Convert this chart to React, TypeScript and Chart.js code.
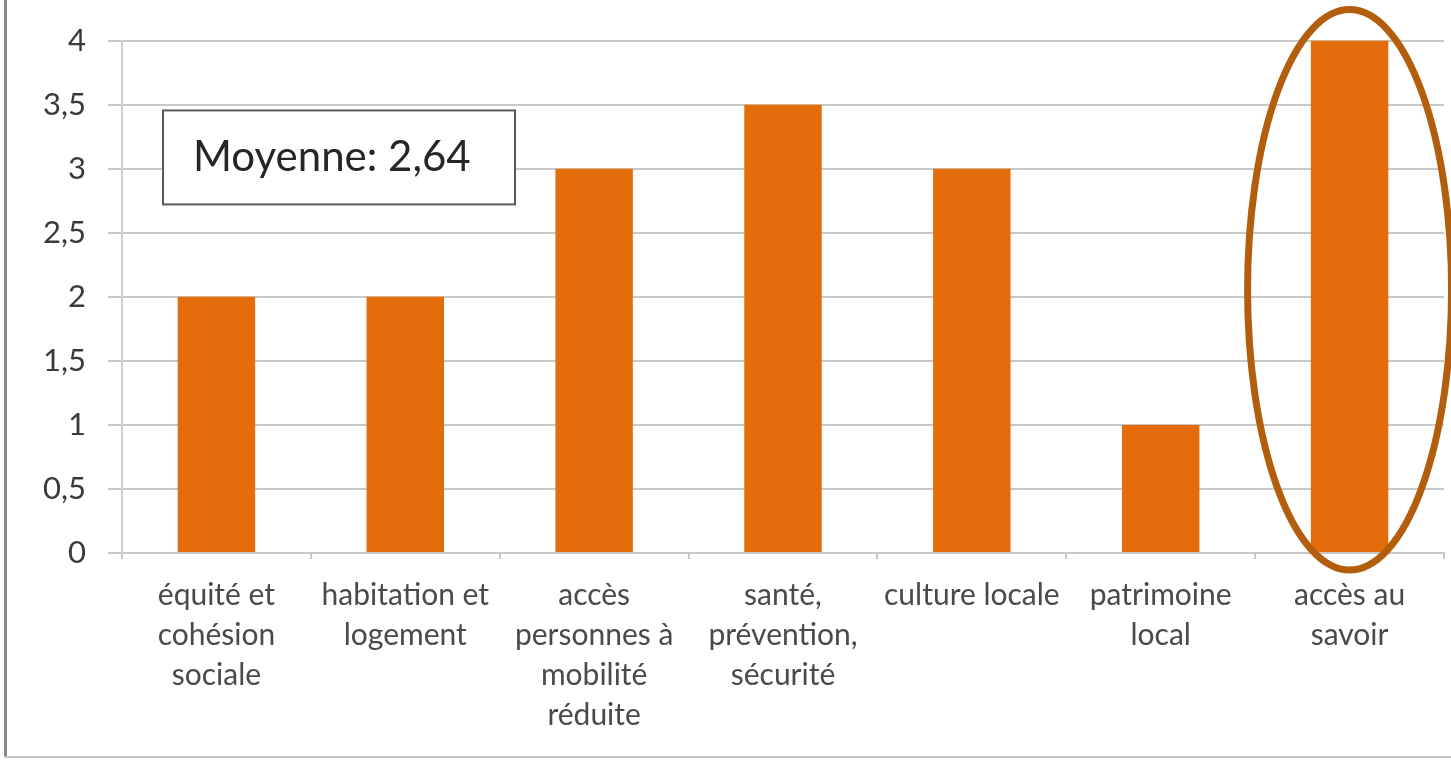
import React, { useEffect, useRef } from "react";
import { Chart, registerables } from "chart.js";

Chart.register(...registerables);

const categories: string[][] = [
  ["équité et", "cohésion", "sociale"],
  ["habitation et", "logement"],
  ["accès", "personnes à", "mobilité", "réduite"],
  ["santé,", "prévention,", "sécurité"],
  ["culture locale"],
  ["patrimoine", "local"],
  ["accès au", "savoir"],
];
const values: number[] = [2, 2, 3, 3.5, 3, 1, 4];
const annotationText = "Moyenne: 2,64";
const highlightIndex = 6;

const FONT = "Lato, 'Open Sans', sans-serif";

const overlayPlugin = {
  id: "overlay",
  afterDatasetsDraw(chart: any) {
    const ctx = chart.ctx;
    const x = chart.scales.x;
    const y = chart.scales.y;
    // annotation box
    const bx = x.left + 41;
    const by = y.getPixelForValue(3.455);
    const bw = 352;
    const bh = 94;
    ctx.save();
    ctx.fillStyle = "#ffffff";
    ctx.fillRect(bx, by, bw, bh);
    ctx.strokeStyle = "#595959";
    ctx.lineWidth = 2;
    ctx.strokeRect(bx, by, bw, bh);
    ctx.fillStyle = "#262626";
    ctx.font = `42px ${FONT}`;
    ctx.textBaseline = "middle";
    ctx.textAlign = "left";
    ctx.fillText(annotationText, bx + 30, by + bh / 2);
    // ellipse around highlighted bar
    const cx = x.getPixelForValue(highlightIndex);
    const top = y.getPixelForValue(values[highlightIndex]) - 31;
    const bottom = y.getPixelForValue(0) + 17;
    ctx.beginPath();
    ctx.ellipse(cx, (top + bottom) / 2, 102, (bottom - top) / 2, 0, 0, Math.PI * 2);
    ctx.strokeStyle = "#B35E0C";
    ctx.lineWidth = 7;
    ctx.stroke();
    ctx.restore();
  },
};

export default function App() {
  const canvasRef = useRef<HTMLCanvasElement>(null);

  useEffect(() => {
    const chart = new Chart(canvasRef.current as HTMLCanvasElement, {
      type: "bar",
      data: {
        labels: categories,
        datasets: [
          {
            data: values,
            backgroundColor: "#E46C0A",
            barPercentage: 0.41,
            categoryPercentage: 1,
          },
        ],
      },
      options: {
        animation: false,
        responsive: false,
        layout: { padding: { top: 8, right: 7, bottom: 0, left: 0 } },
        plugins: { legend: { display: false }, tooltip: { enabled: false } },
        scales: {
          x: {
            offset: true,
            grid: {
              offset: true,
              drawOnChartArea: false,
              drawTicks: true,
              tickLength: 6,
              color: "#c8c8c8",
              lineWidth: 2,
            },
            border: { color: "#c8c8c8", width: 2 },
            ticks: {
              color: "#4a4a4a",
              font: { family: FONT, size: 30, lineHeight: 1.34 },
              padding: 16,
              maxRotation: 0,
              autoSkip: false,
            },
            afterFit(scale: any) {
              scale.height = 207;
            },
          },
          y: {
            min: 0,
            max: 4,
            grid: { color: "#c8c8c8", lineWidth: 2, tickLength: 14 },
            border: { color: "#d0d0d0", width: 2 },
            ticks: {
              stepSize: 0.5,
              color: "#3a3a3a",
              font: { family: FONT, size: 31 },
              padding: 22,
              callback: (v: any) => String(v).replace(".", ","),
            },
            afterFit(scale: any) {
              scale.width = 122;
            },
          },
        },
      },
      plugins: [overlayPlugin],
    });
    return () => chart.destroy();
  }, []);

  return (
    <div style={{ position: "fixed", left: 0, top: 0, width: 1451, height: 760, background: "#fff" }}>
      <canvas ref={canvasRef} width={1451} height={760} style={{ position: "absolute", left: 0, top: 0 }} />
      <div style={{ position: "absolute", left: 4, top: 0, width: 3, height: 758, background: "#8a8a8a" }} />
      <div style={{ position: "absolute", left: 4, top: 756, width: 1447, height: 2, background: "#c8c8c8" }} />
    </div>
  );
}
